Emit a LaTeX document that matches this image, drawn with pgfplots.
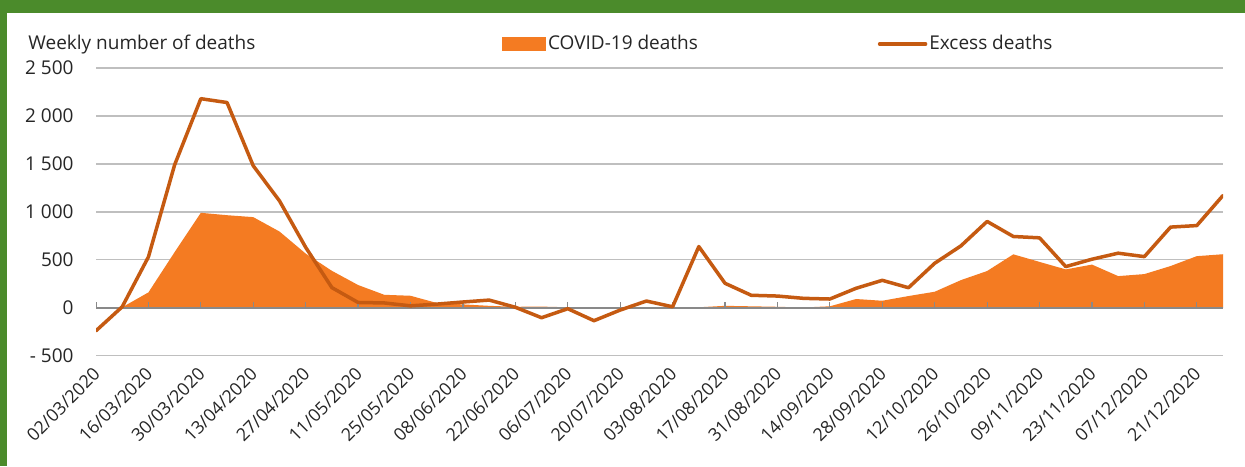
\documentclass[border=0pt]{standalone}
\usepackage{pgfplots}
\pgfplotsset{compat=1.18}
\usepackage{fontspec}
\setmainfont{Open Sans}

\definecolor{framegreen}{HTML}{4B8B2B}
\definecolor{covid}{HTML}{F47B22}
\definecolor{excess}{HTML}{C55A11}
\definecolor{gridc}{HTML}{BFBFBF}
\definecolor{axisc}{HTML}{898989}
\definecolor{txt}{HTML}{262626}

\newcommand{\lblfont}{\fontsize{9.5}{11}\selectfont}
\newcommand{\datefont}{\fontsize{8.9}{10.5}\selectfont}

\begin{document}
\begin{tikzpicture}
\fill[white] (0,0) rectangle (622.5pt,233pt);
\fill[framegreen] (0,226.6pt) rectangle (622.5pt,233pt);
\fill[framegreen] (0,0) rectangle (3.6pt,233pt);

\node[anchor=base west, inner sep=0pt, text=txt, font=\lblfont] at (14pt,208pt) {Weekly number of deaths};

\begin{axis}[
    at={(48pt,55.15pt)}, anchor=south west,
    scale only axis, width=563.5pt, height=143.85pt,
    xmin=0, xmax=43, ymin=-500, ymax=2500,
    axis line style={draw=none},
    major tick length=0pt,
    xtick={0,2,...,42},
    xticklabels={02/03/2020,16/03/2020,30/03/2020,13/04/2020,27/04/2020,11/05/2020,
        25/05/2020,08/06/2020,22/06/2020,06/07/2020,20/07/2020,03/08/2020,17/08/2020,
        31/08/2020,14/09/2020,28/09/2020,12/10/2020,26/10/2020,09/11/2020,23/11/2020,
        07/12/2020,21/12/2020},
    ytick={-500,0,...,2500},
    yticklabels={- 500,0,500,1 000,1 500,2 000,2 500},
    tick label style={font=\lblfont, text=txt},
    x tick label style={font=\datefont, xshift=-2pt, yshift=-5.1pt, rotate=45, anchor=north east, inner sep=0pt},
    y tick label style={inner sep=0pt, xshift=-11pt},
    ymajorgrids, grid style={gridc, line width=0.65pt},
    legend columns=2,
    legend style={at={(0.3603,1.0834)}, anchor=west, draw=none, fill=none,
        inner sep=0pt, outer sep=0pt, font=\lblfont, text=txt,
        nodes={inner sep=1pt},
        /tikz/every even column/.append style={column sep=89pt}},
]
% COVID-19 deaths (area)
\addplot[fill=covid, draw=none,
    legend image code/.code={\fill[covid] (0pt,-3.5pt) rectangle (22pt,3.5pt);}]
coordinates {
(0,0) (1,5) (2,160) (3,580) (4,990) (5,965) (6,945) (7,795) (8,565) (9,385)
(10,237) (11,135) (12,125) (13,50) (14,35) (15,20) (16,10) (17,12) (18,5) (19,3)
(20,0) (21,0) (22,0) (23,5) (24,20) (25,15) (26,10) (27,3) (28,15) (29,91)
(30,73) (31,122) (32,167) (33,288) (34,383) (35,557) (36,478) (37,400) (38,450) (39,330)
(40,351) (41,435) (42,538) (43,558)
} \closedcycle;
\addlegendentry{COVID-19 deaths}

% horizontal axis at zero, drawn over the area
\draw[axisc, line width=0.75pt] (axis cs:0,0) -- (axis cs:43,0);
\pgfplotsinvokeforeach{0,2,...,42}{
    \draw[axisc, line width=0.6pt] (axis cs:#1,0) -- ([yshift=3pt]axis cs:#1,0);
}

% Excess deaths (line)
\addplot[excess, line width=1.75pt, line join=round, line cap=round,
    legend image code/.code={\draw[excess, line width=1.75pt] (0pt,0pt) -- (23pt,0pt);}]
coordinates {
(0,-240) (1,10) (2,530) (3,1490) (4,2180) (5,2140) (6,1480) (7,1115) (8,630) (9,210)
(10,55) (11,50) (12,20) (13,38) (14,60) (15,80) (16,5) (17,-104) (18,-10) (19,-135)
(20,-24) (21,70) (22,10) (23,638) (24,255) (25,130) (26,122) (27,98) (28,91) (29,203)
(30,286) (31,209) (32,464) (33,645) (34,900) (35,743) (36,729) (37,429) (38,506) (39,569)
(40,533) (41,841) (42,857) (43,1171)
};
\addlegendentry{Excess deaths}
\end{axis}
\pgfresetboundingbox
\path[use as bounding box] (0,0) rectangle (622.5pt,233pt);
\end{tikzpicture}
\end{document}
